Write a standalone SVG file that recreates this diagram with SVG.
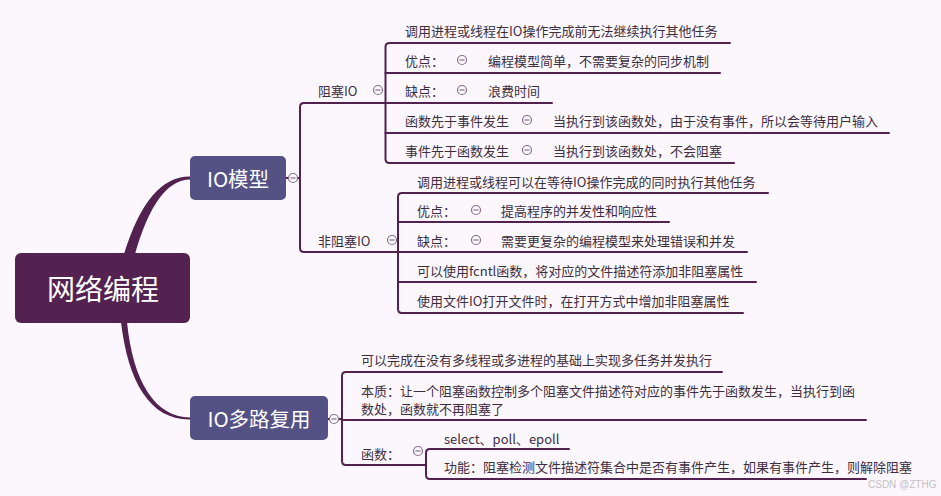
<svg xmlns="http://www.w3.org/2000/svg" width="941" height="496" viewBox="0 0 941 496">
<style>
.t{font-family:"Noto Sans CJK SC","Noto Sans",sans-serif;font-size:13px;fill:#3d2e3d;dominant-baseline:central}
.big{font-family:"Noto Sans CJK SC","Noto Sans",sans-serif;fill:#ffffff;dominant-baseline:central;text-anchor:middle}
.ln{fill:none;stroke:#52214f;stroke-width:2;stroke-linecap:round;stroke-linejoin:round}
.br{fill:#52214f}
.cc{fill:#fcf7fd;stroke:#85708a;stroke-width:1.2}
.cm{stroke:#85708a;stroke-width:1.2}
.wm{font-family:"Liberation Sans",sans-serif;font-size:10px;fill:#c4c0c6}
</style>
<defs>
<g id="col"><circle class="cc" cx="0" cy="0" r="4.5"/><line class="cm" x1="-2.5" y1="0" x2="2.5" y2="0"/></g>
</defs>
<rect width="941" height="496" fill="#fcf7fd"/>
<g id="connectors">
<path class="br" d="M124,254 Q148,176 190,176.5 L190,179.5 Q156,180 135,254 Z"/>
<path class="br" d="M121,322 C128,382 150,420 190,419.5 L190,417.5 C155,417 133,382 127,322 Z"/>
<path class="ln" d="M286,178 L289,178 M297,178 L300,178"/>
<path class="ln" d="M385,103 L304,103 Q300,103 300,107 L300,248 Q300,252 304,252 L398,252"/>
<path class="ln" d="M730,43 L389.5,43 Q385.5,43 385.5,47 L385.5,159 Q385.5,163 389.5,163 L734,163"/>
<path class="ln" d="M385.5,73 L720,73 M385.5,103 L552,103 M385.5,133 L889,133"/>
<path class="ln" d="M768,193 L402,193 Q398,193 398,197 L398,309 Q398,313 402,313 L743,313"/>
<path class="ln" d="M398,222 L669,222 M398,252 L747,252 M398,282 L756,282"/>
<path class="ln" d="M328,419 L329.5,419 M338.5,419 L342,419"/>
<path class="ln" d="M722,372 L346,372 Q342,372 342,376 L342,461 Q342,465 346,465 L426,465"/>
<path class="ln" d="M342,420 L866,420"/>
<path class="ln" d="M569,449 L430,449 Q426,449 426,453 L426,475 Q426,479 430,479 L866,479"/>
</g>
<g id="root"><rect x="15" y="253" width="175" height="70" rx="6" fill="#532250"/><text class="big" x="103" y="288" font-size="28">网络编程</text></g>
<g id="io-model"><rect x="190" y="156" width="96" height="44" rx="5" fill="#545185"/><text class="big" x="238" y="178" font-size="20.5">IO模型</text><use href="#col" x="293" y="178"/></g>
<g id="io-mux"><rect x="190" y="396" width="138" height="44" rx="5" fill="#545185"/><text class="big" x="259" y="418" font-size="20.5">IO多路复用</text><use href="#col" x="334" y="419"/></g>
<g id="blocking"><text class="t" x="318" y="90">阻塞IO</text><use href="#col" x="378" y="90"/></g>
<g id="b1"><text class="t" x="405" y="30">调用进程或线程在IO操作完成前无法继续执行其他任务</text></g>
<g id="b2"><text class="t" x="405" y="60">优点：</text><use href="#col" x="462" y="60"/><text class="t" x="488" y="60">编程模型简单，不需要复杂的同步机制</text></g>
<g id="b3"><text class="t" x="405" y="90">缺点：</text><use href="#col" x="462" y="90"/><text class="t" x="488" y="90">浪费时间</text></g>
<g id="b4"><text class="t" x="405" y="120">函数先于事件发生</text><use href="#col" x="527" y="120"/><text class="t" x="553" y="120">当执行到该函数处，由于没有事件，所以会等待用户输入</text></g>
<g id="b5"><text class="t" x="405" y="150">事件先于函数发生</text><use href="#col" x="527" y="150"/><text class="t" x="553" y="150">当执行到该函数处，不会阻塞</text></g>
<g id="nonblocking"><text class="t" x="318" y="240">非阻塞IO</text><use href="#col" x="392" y="240"/></g>
<g id="n1"><text class="t" x="417" y="181">调用进程或线程可以在等待IO操作完成的同时执行其他任务</text></g>
<g id="n2"><text class="t" x="417" y="210">优点：</text><use href="#col" x="476" y="210"/><text class="t" x="501" y="210">提高程序的并发性和响应性</text></g>
<g id="n3"><text class="t" x="417" y="240">缺点：</text><use href="#col" x="476" y="240"/><text class="t" x="501" y="240">需要更复杂的编程模型来处理错误和并发</text></g>
<g id="n4"><text class="t" x="417" y="270">可以使用fcntl函数，将对应的文件描述符添加非阻塞属性</text></g>
<g id="n5"><text class="t" x="417" y="300">使用文件IO打开文件时，在打开方式中增加非阻塞属性</text></g>
<g id="m1"><text class="t" x="361" y="359">可以完成在没有多线程或多进程的基础上实现多任务并发执行</text></g>
<g id="m2"><text class="t" x="361" y="390">本质：让一个阻塞函数控制多个阻塞文件描述符对应的事件先于函数发生，当执行到函<tspan x="361" dy="18">数处，函数就不再阻塞了</tspan></text></g>
<g id="m3"><text class="t" x="361" y="453">函数：</text><use href="#col" x="418" y="451"/></g>
<g id="m3a"><text class="t" x="444" y="438">select、poll、epoll</text></g>
<g id="m3b"><text class="t" x="444" y="466">功能：阻塞检测文件描述符集合中是否有事件产生，如果有事件产生，则解除阻塞</text></g>
<text class="wm" x="868" y="488">CSDN @ZTHG</text>
</svg>
